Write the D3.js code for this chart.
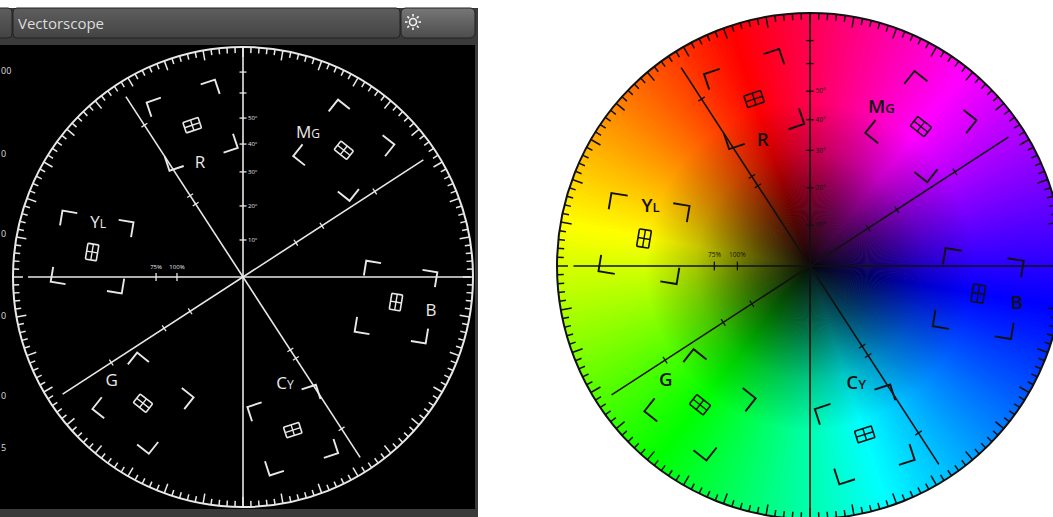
<!DOCTYPE html>
<html>
<head>
<meta charset="utf-8">
<script src="https://cdn.jsdelivr.net/npm/d3@7"></script>
<style>
  body { margin: 0; background: #fff; }
  svg { display: block; }
</style>
</head>
<body>
<div id="vis"></div>
<script>
// colour targets (angle in degrees, counter-clockwise from 3 o'clock; radius as share of scope radius)
var targetNames = ['R', 'Mg', 'Yl', 'B', 'Cy', 'G'];
var targetAngles = [108.5, 51.5, 170.6, 350.7, 288, 231.6];
var targetRadii = [0.696, 0.704, 0.665, 0.674, 0.70, 0.70];
var labelMain = ['R', 'M', 'Y', 'B', 'C', 'G'];
var labelSub = ['', 'G', 'L', '', 'Y', ''];
var labelAngles = [110.5, 65.9, 159.2, -10, -68.4, 218.2];
var labelRadii = [0.535, 0.691, 0.674, 0.83, 0.496, 0.726];

// graticule
var vTickRadii = [0.161, 0.309, 0.457, 0.578, 0.691, 0.80, 0.891];
var vTickLabels = ['10°', '20°', '30°', '40°', '50°', '', ''];
var hTickRadii = [0.378, 0.287];
var hTickLabels = ['75%', '100%'];
var iLineAngle = 123;
var qLineAngle = 33;
var iTickRadii = [0.378, 0.422, 0.787];
var qTickRadii = [0.274, 0.409, 0.683];

// colour wheel
var hueAngles = [-9.3, 51.5, 108.5, 170.6, 231.6, 288, 350.7];
var hueColors = ['#0000ff', '#ff00ff', '#ff0000', '#ffff00', '#00ff00', '#00ffff', '#0000ff'];

// visible ends of the neighbouring panel's labels
var sideLabels = ['00', '0', '0', '0', '0', '5'];
var sideLabelY = [70, 153, 233, 315, 395, 447];

var width = 1053, height = 517;

var svg = d3.select('#vis').append('svg')
    .attr('width', width)
    .attr('height', height);

var defs = svg.append('defs');

var grad = defs.append('linearGradient').attr('id', 'barGrad')
    .attr('x1', 0).attr('y1', 0).attr('x2', 0).attr('y2', 1);
grad.append('stop').attr('offset', '0%').attr('stop-color', '#5e5e5e');
grad.append('stop').attr('offset', '100%').attr('stop-color', '#434343');

var btnGrad = defs.append('linearGradient').attr('id', 'btnGrad')
    .attr('x1', 0).attr('y1', 0).attr('x2', 0).attr('y2', 1);
btnGrad.append('stop').attr('offset', '0%').attr('stop-color', '#777');
btnGrad.append('stop').attr('offset', '100%').attr('stop-color', '#4c4c4c');

var dark = defs.append('radialGradient').attr('id', 'darkCenter');
dark.append('stop').attr('offset', '0%').attr('stop-color', '#000').attr('stop-opacity', 0.95);
dark.append('stop').attr('offset', '22%').attr('stop-color', '#000').attr('stop-opacity', 0.62);
dark.append('stop').attr('offset', '45%').attr('stop-color', '#000').attr('stop-opacity', 0.22);
dark.append('stop').attr('offset', '65%').attr('stop-color', '#000').attr('stop-opacity', 0);

// ---- left panel frame ----
svg.append('rect').attr('x', 0).attr('y', 8).attr('width', 478).attr('height', 509).attr('fill', '#3a3a3a');
svg.append('rect').attr('x', 0).attr('y', 45).attr('width', 475).attr('height', 464).attr('fill', '#000');

svg.append('rect').attr('x', -6).attr('y', 8).attr('width', 18).attr('height', 30).attr('rx', 4)
    .attr('fill', 'url(#barGrad)').attr('stroke', '#222');
svg.append('rect').attr('x', 13).attr('y', 8).attr('width', 387).attr('height', 30).attr('rx', 4)
    .attr('fill', 'url(#barGrad)').attr('stroke', '#222');
svg.append('rect').attr('x', 401).attr('y', 8).attr('width', 74).attr('height', 30).attr('rx', 5)
    .attr('fill', 'url(#btnGrad)').attr('stroke', '#222');

svg.append('text')
    .attr('x', 18).attr('y', 29)
    .attr('font-family', 'Open Sans, sans-serif')
    .attr('font-size', 15)
    .attr('fill', '#dcdcdc')
    .text('Vectorscope');

var sun = svg.append('g').attr('transform', 'translate(413,22)')
    .attr('stroke', '#f4f4f4').attr('fill', 'none').attr('stroke-width', 1.6);
sun.append('circle').attr('r', 3.5);
sun.selectAll('line').data(d3.range(0, 360, 45)).join('line')
    .attr('x1', function(a) { return 5.5 * Math.cos(a * Math.PI / 180); })
    .attr('y1', function(a) { return 5.5 * Math.sin(a * Math.PI / 180); })
    .attr('x2', function(a) { return 8 * Math.cos(a * Math.PI / 180); })
    .attr('y2', function(a) { return 8 * Math.sin(a * Math.PI / 180); });

svg.selectAll('text.side').data(sideLabels).join('text')
    .attr('class', 'side')
    .attr('x', 1)
    .attr('y', function(d, i) { return sideLabelY[i] + 4; })
    .attr('font-family', 'Open Sans, sans-serif')
    .attr('font-size', 9)
    .attr('fill', '#ddd')
    .text(function(d) { return d; });

function drawScope(cx, cy, R, col, k, wheel) {
    var g = svg.append('g').attr('transform', 'translate(' + cx + ',' + cy + ')');
    var r = d3.scaleLinear().domain([0, 1]).range([0, R]);
    var rad = function(a) { return a * Math.PI / 180; };
    var px = function(a, f) { return r(f) * Math.cos(rad(a)); };
    var py = function(a, f) { return -r(f) * Math.sin(rad(a)); };

    if (wheel) {
        var hue = d3.scaleLinear().domain(hueAngles).range(hueColors).interpolate(d3.interpolateRgb);
        var arc = d3.arc().innerRadius(0).outerRadius(R);
        g.append('g').selectAll('path').data(d3.range(0, 360, 1)).join('path')
            .attr('d', function(a) {
                return arc({ startAngle: rad(90 - a - 0.7), endAngle: rad(90 - a + 0.7) });
            })
            .attr('fill', function(a) { return hue(a > 350.7 ? a - 360 : a); });
        g.append('circle').attr('r', R).attr('fill', 'url(#darkCenter)');
    }

    var lw = 1.6;

    // outer ring + ticks
    g.append('circle').attr('r', R).attr('fill', 'none').attr('stroke', col).attr('stroke-width', 2);
    g.append('g').selectAll('line').data(d3.range(0, 360, 2)).join('line')
        .attr('x1', function(a) { return px(a, 1); })
        .attr('y1', function(a) { return py(a, 1); })
        .attr('x2', function(a) { return px(a, 1 - (a % 10 === 0 ? 10 : 6) * k / R); })
        .attr('y2', function(a) { return py(a, 1 - (a % 10 === 0 ? 10 : 6) * k / R); })
        .attr('stroke', col).attr('stroke-width', 1.5);

    // axes
    g.append('line').attr('x1', px(180, 0.935)).attr('y1', 0).attr('x2', px(0, 0.99)).attr('y2', 0)
        .attr('stroke', col).attr('stroke-width', lw);
    g.append('line').attr('x1', 0).attr('y1', py(90, 1)).attr('x2', 0).attr('y2', py(270, 1))
        .attr('stroke', col).attr('stroke-width', lw);
    [iLineAngle, qLineAngle].forEach(function(a) {
        g.append('line')
            .attr('x1', px(a, 0.935)).attr('y1', py(a, 0.935))
            .attr('x2', px(a + 180, 0.935)).attr('y2', py(a + 180, 0.935))
            .attr('stroke', col).attr('stroke-width', lw);
    });

    // ticks on the I and Q lines
    function lineTicks(angle, radii) {
        var ticks = [];
        radii.forEach(function(f) { ticks.push([angle, f]); ticks.push([angle + 180, f]); });
        var t = 3.5 * k;
        g.append('g').selectAll('line').data(ticks).join('line')
            .attr('x1', function(d) { return px(d[0], d[1]) + t * Math.sin(rad(d[0])); })
            .attr('y1', function(d) { return py(d[0], d[1]) + t * Math.cos(rad(d[0])); })
            .attr('x2', function(d) { return px(d[0], d[1]) - t * Math.sin(rad(d[0])); })
            .attr('y2', function(d) { return py(d[0], d[1]) - t * Math.cos(rad(d[0])); })
            .attr('stroke', col).attr('stroke-width', 1.3);
    }
    lineTicks(iLineAngle, iTickRadii);
    lineTicks(qLineAngle, qTickRadii);

    // vertical scale
    g.append('g').selectAll('line').data(vTickRadii).join('line')
        .attr('x1', -3.5 * k).attr('x2', 3.5 * k)
        .attr('y1', function(f) { return py(90, f); }).attr('y2', function(f) { return py(90, f); })
        .attr('stroke', col).attr('stroke-width', 1.3);
    g.append('g').selectAll('text').data(vTickLabels).join('text')
        .attr('x', 5 * k)
        .attr('y', function(d, i) { return py(90, vTickRadii[i]) + 2 * k; })
        .attr('font-family', 'Open Sans, sans-serif')
        .attr('font-size', 6 * k)
        .attr('fill', col)
        .text(function(d) { return d; });

    // horizontal scale
    g.append('g').selectAll('line').data(hTickRadii).join('line')
        .attr('x1', function(f) { return px(180, f); }).attr('x2', function(f) { return px(180, f); })
        .attr('y1', -4 * k).attr('y2', 4 * k)
        .attr('stroke', col).attr('stroke-width', 1.3);
    g.append('g').selectAll('text').data(hTickLabels).join('text')
        .attr('x', function(d, i) { return px(180, hTickRadii[i]); })
        .attr('y', -8 * k)
        .attr('text-anchor', 'middle')
        .attr('font-family', 'Open Sans, sans-serif')
        .attr('font-size', 6 * k)
        .attr('fill', col)
        .text(function(d) { return d; });

    // colour targets
    var h = 36 * k, arm = 15 * k;
    var corners = [[-1, -1], [1, -1], [1, 1], [-1, 1]];
    var targets = g.append('g').selectAll('g').data(targetNames).join('g')
        .attr('transform', function(d, i) {
            return 'translate(' + px(targetAngles[i], targetRadii[i]) + ',' + py(targetAngles[i], targetRadii[i]) +
                ') rotate(' + (90 - targetAngles[i]) + ')';
        });
    targets.selectAll('path').data(corners).join('path')
        .attr('d', function(c) {
            return 'M' + (c[0] * h - c[0] * arm) + ',' + (c[1] * h) +
                'L' + (c[0] * h) + ',' + (c[1] * h) +
                'L' + (c[0] * h) + ',' + (c[1] * h - c[1] * arm);
        })
        .attr('fill', 'none').attr('stroke', col).attr('stroke-width', 1.9);
    targets.append('rect')
        .attr('x', -8 * k).attr('y', -5.5 * k).attr('width', 16 * k).attr('height', 11 * k).attr('rx', 1)
        .attr('fill', 'none').attr('stroke', col).attr('stroke-width', 1.6);
    targets.append('path')
        .attr('d', 'M0,' + (-5.5 * k) + 'V' + (5.5 * k) + 'M' + (-8 * k) + ',0H' + (8 * k))
        .attr('stroke', col).attr('stroke-width', 1.4);

    var labels = g.append('g').selectAll('text').data(labelMain).join('text')
        .attr('x', function(d, i) { return px(labelAngles[i], labelRadii[i]); })
        .attr('y', function(d, i) { return py(labelAngles[i], labelRadii[i]) + 6 * k; })
        .attr('text-anchor', 'middle')
        .attr('font-family', 'Open Sans, sans-serif')
        .attr('font-weight', wheel ? 600 : 400)
        .attr('fill', col);
    labels.append('tspan').attr('font-size', 17 * k).text(function(d) { return d; });
    labels.append('tspan').attr('font-size', 12 * k).text(function(d, i) { return labelSub[i]; });
}

drawScope(243, 277, 230, '#e8e8e8', 1, false);
drawScope(810, 266, 253, '#111', 1.1, true);
</script>
</body>
</html>
